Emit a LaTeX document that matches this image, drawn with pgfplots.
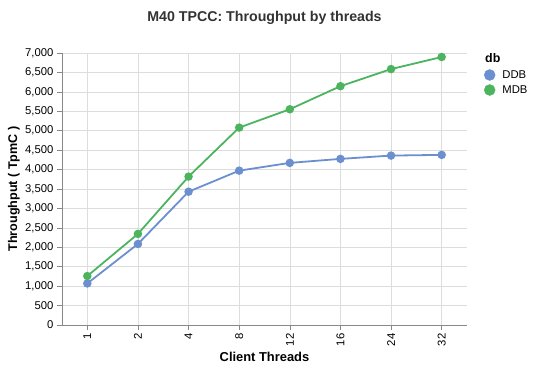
\documentclass[border=0pt]{standalone}
\usepackage{pgfplots}
\pgfplotsset{compat=1.18}
\usepackage{fontspec}
\setmainfont{Liberation Sans}
\definecolor{ddb}{HTML}{6C8FCF}
\definecolor{mdb}{HTML}{4CB45E}
\definecolor{gridc}{HTML}{DDDDDD}
\definecolor{axisc}{HTML}{888888}
\definecolor{titlec}{HTML}{333333}
\begin{document}
\begin{tikzpicture}
\useasboundingbox (-62pt,-46pt) rectangle (471pt,325pt);
\begin{axis}[
  scale only axis, width=405pt, height=272pt,
  xmin=-0.5, xmax=7.5, ymin=0, ymax=7000,
  xtick={0,...,7}, xticklabels={1,2,4,8,12,16,24,32},
  ytick={0,500,...,7000},
  scaled y ticks=false,
  /pgf/number format/.cd, 1000 sep={,}, assume math mode=true,
  /pgfplots/.cd,
  axis x line*=bottom, axis y line*=left,
  axis line style={axisc, line width=0.8pt, -},
  tick align=outside, major tick length=5pt,
  tick style={axisc, line width=0.6pt},
  grid=major, major grid style={gridc, line width=0.6pt},
  xticklabel style={rotate=90, anchor=east, font=\fontsize{11.3}{13}\selectfont, black},
  yticklabel style={font=\fontsize{11.3}{13}\selectfont, black},
  xlabel={Client Threads},
  ylabel={Throughput ( TpmC )},
  xlabel style={at={(axis description cs:0.5,-0.1176)}, anchor=center, font=\fontsize{12.9}{15}\selectfont\bfseries},
  ylabel style={at={(axis description cs:-0.1185,0.5)}, anchor=center, rotate=0, font=\fontsize{12.6}{15}\selectfont\bfseries},
  title={M40 TPCC: Throughput by threads},
  title style={at={(axis description cs:0.5,1.106)}, anchor=center, font=\fontsize{14.2}{16}\selectfont\bfseries, titlec},
  legend style={at={(axis description cs:1.0415,0.941)}, anchor=north west, draw=none, fill=none,
    font=\fontsize{11.3}{13}\selectfont, inner sep=0pt, row sep=3.5pt, column sep=7pt,
    nodes={inner sep=0pt, text height=9pt, text depth=2.5pt}},
  legend cell align=left,
  clip=false,
]
\addplot[ddb, line width=1.8pt, mark=*, mark size=3.3pt, mark options={fill=ddb, draw=ddb}, forget plot]
  coordinates {(0,1069) (1,2086) (2,3430) (3,3972) (4,4172) (5,4275) (6,4360) (7,4378)};
\addplot[mdb, line width=1.8pt, mark=*, mark size=3.3pt, mark options={fill=mdb, draw=mdb}, forget plot]
  coordinates {(0,1260) (1,2344) (2,3819) (3,5080) (4,5552) (5,6146) (6,6586) (7,6897)};
\addlegendimage{legend image code/.code={\fill[ddb] (5.5pt,0pt) circle (5.5pt);}}
\addlegendentry{DDB}
\addlegendimage{legend image code/.code={\fill[mdb] (5.5pt,0pt) circle (5.5pt);}}
\addlegendentry{MDB}
\node[anchor=west, font=\fontsize{12.4}{14}\selectfont\bfseries, inner sep=0pt] at (axis description cs:1.0444,0.9816) {db};
\end{axis}
\end{tikzpicture}
\end{document}
